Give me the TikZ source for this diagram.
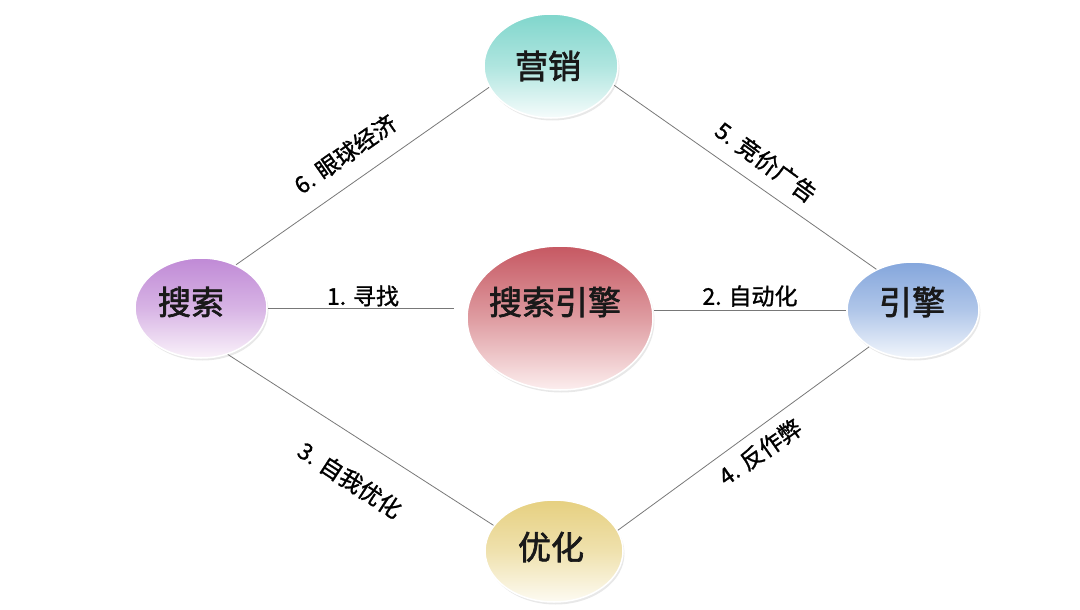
\documentclass[tikz,border=0pt]{standalone}
\usepackage{fontspec}
\setmainfont{Noto Sans CJK SC}
\newfontfamily\medfont{Noto Sans CJK SC}[FakeBold=1.2]
\newfontfamily\heavyfont{Noto Sans CJK SC}[FakeBold=2]
\usetikzlibrary{shapes.geometric,shadows}
\definecolor{redT}{RGB}{198,88,98}
\definecolor{redB}{RGB}{252,238,238}
\definecolor{purT}{RGB}{192,138,214}
\definecolor{purB}{RGB}{250,242,250}
\definecolor{cyaT}{RGB}{128,214,204}
\definecolor{cyaB}{RGB}{246,252,252}
\definecolor{bluT}{RGB}{132,166,220}
\definecolor{bluB}{RGB}{242,246,252}
\definecolor{yelT}{RGB}{230,208,128}
\definecolor{yelB}{RGB}{253,251,242}
\definecolor{lineC}{RGB}{120,120,120}
\tikzset{
  bubble/.style={ellipse, draw=white, line width=1.5pt, inner sep=0pt,
    drop shadow={opacity=0.18, shadow xshift=1.5pt, shadow yshift=-2.5pt}},
  btext/.style={font=\heavyfont\fontsize{33}{36}\selectfont, text=black!90},
  ltext/.style={font=\medfont\fontsize{23}{26}\selectfont, text=black},
  conn/.style={draw=lineC, line width=0.8pt}
}
\begin{document}
\begin{tikzpicture}[x=1pt,y=-1pt]
\useasboundingbox (0,0) rectangle (1080,610);
% nodes
\node[bubble, minimum width=186pt, minimum height=144pt, top color=redT, bottom color=redB, middle color={redT!55!redB}] (sse) at (560,318) {};
\node[btext] (sset) at (555,302) {搜索引擎};
\node[bubble, minimum width=132pt, minimum height=100pt, top color=purT, bottom color=purB, middle color={purT!60!purB}] (ss) at (201,308) {};
\node[btext] (sst) at (191,302) {搜索};
\node[bubble, minimum width=134pt, minimum height=104pt, top color=cyaT, bottom color=cyaB, middle color={cyaT!60!cyaB}] (yx) at (551,66) {};
\node[btext] (yxt) at (548,66) {营销};
\node[bubble, minimum width=132pt, minimum height=96pt, top color=bluT, bottom color=bluB, middle color={bluT!60!bluB}] (yq) at (913,310) {};
\node[btext] (yqt) at (912,302) {引擎};
\node[bubble, minimum width=138pt, minimum height=102pt, top color=yelT, bottom color=yelB, middle color={yelT!60!yelB}] (yh) at (554,551) {};
\node[btext] (yht) at (551,547) {优化};
% connectors
\draw[conn] (ss.51) -- (yx.199);
\draw[conn] (yx.-17) -- (yq.132);
\draw[conn, shorten >=12pt] (ss.east) -- (ss.east -| sse.west);
\draw[conn] (sse.east |- yq.west) -- (yq.west);
\draw[conn] (ss.-60) -- (yh.157);
\draw[conn] (yh.18) -- (yq.220);
% labels
\node[ltext] (l1) at (363,296) {1. 寻找};
\node[ltext] (l2) at (750,296) {2. 自动化};
\node[ltext, rotate=-33] (l3) at (350,480) {3. 自我优化};
\node[ltext, rotate=35] (l4) at (760,452) {4. 反作弊};
\node[ltext, rotate=-36] (l5) at (766,162) {5. 竞价广告};
\node[ltext, rotate=35] (l6) at (345,154) {6. 眼球经济};
\end{tikzpicture}
\end{document}
